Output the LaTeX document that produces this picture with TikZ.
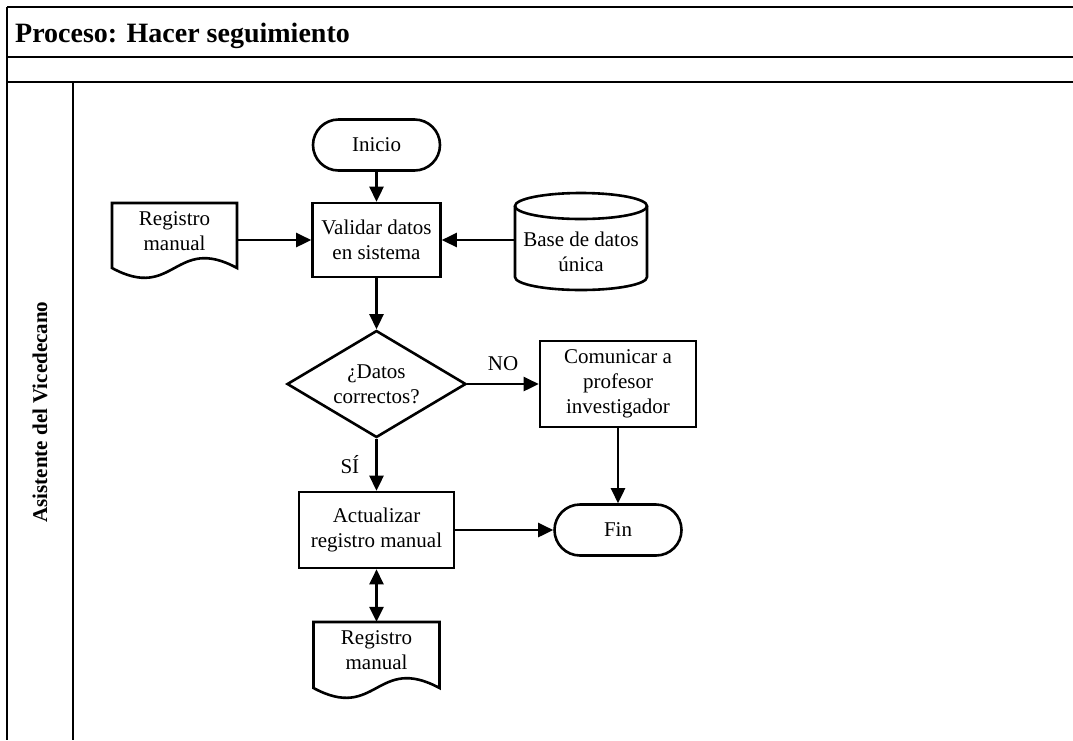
\documentclass[tikz,border=0pt]{standalone}
\usepackage{fontspec}
\setmainfont{Liberation Serif}
\usetikzlibrary{arrows.meta,shapes.geometric,shapes.misc}

\newcommand\flowfont{\fontsize{21}{25}\selectfont}
\newcommand\headfont{\fontsize{28}{34}\selectfont\bfseries}
\newcommand\lanefont{\fontsize{21}{25}\selectfont\bfseries}

\begin{document}
\begin{tikzpicture}[x=1pt,y=-1pt,
  frame/.style={line width=1.5pt},
  outline/.style={line width=2.6pt},
  box/.style={draw, outline, rectangle, align=center, inner sep=0pt, font=\flowfont},
  terminal/.style={draw, outline, rounded rectangle, align=center, inner sep=0pt,
                   minimum width=127, minimum height=51, font=\flowfont},
  decision/.style={draw, outline, diamond, aspect=1.67, align=center, inner sep=0pt,
                   minimum width=179, minimum height=107, font=\flowfont},
  holder/.style={rectangle, inner sep=0pt},
  txt/.style={align=center, inner sep=0pt, font=\flowfont},
  lbl/.style={inner sep=0pt, font=\flowfont},
  arrow/.style={line width=2.6pt, -{Triangle[length=15pt,width=14pt]}},
  dblarrow/.style={line width=2.6pt, {Triangle[length=15pt,width=14pt]}-{Triangle[length=15pt,width=14pt]}},
]
\useasboundingbox (0,0) rectangle (1073,740);

% pool frame
\draw[frame] (7,7) -- (1073,7);
\draw[frame] (7,57) -- (1073,57);
\draw[frame] (7,82) -- (1073,82);
\draw[frame] (7,7) -- (7,740);
\draw[frame] (73,82) -- (73,740);

\node[anchor=base west, inner sep=0pt, font=\headfont] (title) at (15,42) {Proceso: Hacer seguimiento};
\node[rotate=90, inner sep=0pt, font=\lanefont] (lane) at (40,412) {Asistente del Vicedecano};

% flow nodes
\node[terminal] (inicio) at (376.5,145) {Inicio};
\node[box, minimum width=128, minimum height=74] (validar) at (376.5,240) {Validar datos\\en sistema};

% manual record (document shape) on the left
\node[holder, minimum width=125, minimum height=74] (reg1) at (174.5,240) {};
\draw[outline] (112,203) -- (237,203) -- (237,268)
  .. controls (174.5,234) and (174.5,302) .. (112,268) -- cycle;
\node[txt] (reg1txt) at (174.5,231) {Registro\\manual};

% single database (cylinder)
\node[holder, minimum width=132, minimum height=97] (db) at (581,240) {};
\draw[outline] (515,206) -- (515,277) arc[start angle=180, end angle=360, x radius=66pt, y radius=13pt] -- (647,206);
\draw[outline] (581,206) ellipse [x radius=66pt, y radius=13pt];
\node[txt] (dbtxt) at (581,252) {Base de datos\\única};

\node[decision] (datos) at (376.5,384) {¿Datos\\correctos?};
\node[box, minimum width=156, minimum height=86] (comunicar) at (618,384) {Comunicar a\\profesor\\investigador};
\node[box, minimum width=155, minimum height=76] (actualizar) at (376.5,530) {Actualizar\\registro manual};
\node[terminal] (fin) at (618,530) {Fin};

% manual record (document shape) below
\node[holder, minimum width=126, minimum height=76] (reg2) at (376.5,660) {};
\draw[outline] (313.5,622) -- (439.5,622) -- (439.5,688)
  .. controls (376.5,654) and (376.5,722) .. (313.5,688) -- cycle;
\node[txt] (reg2txt) at (376.5,650) {Registro\\manual};

% connectors
\draw[arrow] (inicio) -- (validar);
\draw[arrow] (reg1) -- (validar);
\draw[arrow] (db) -- (validar);
\draw[arrow] (validar) -- (datos);
\draw[arrow] (datos) -- node[lbl, above=12pt] {NO} (comunicar);
\draw[arrow] (datos) -- node[lbl, left=16pt] {SÍ} (actualizar);
\draw[arrow] (comunicar) -- (fin);
\draw[arrow] (actualizar) -- (fin);
\draw[dblarrow] (actualizar) -- (reg2.north);
\end{tikzpicture}
\end{document}
